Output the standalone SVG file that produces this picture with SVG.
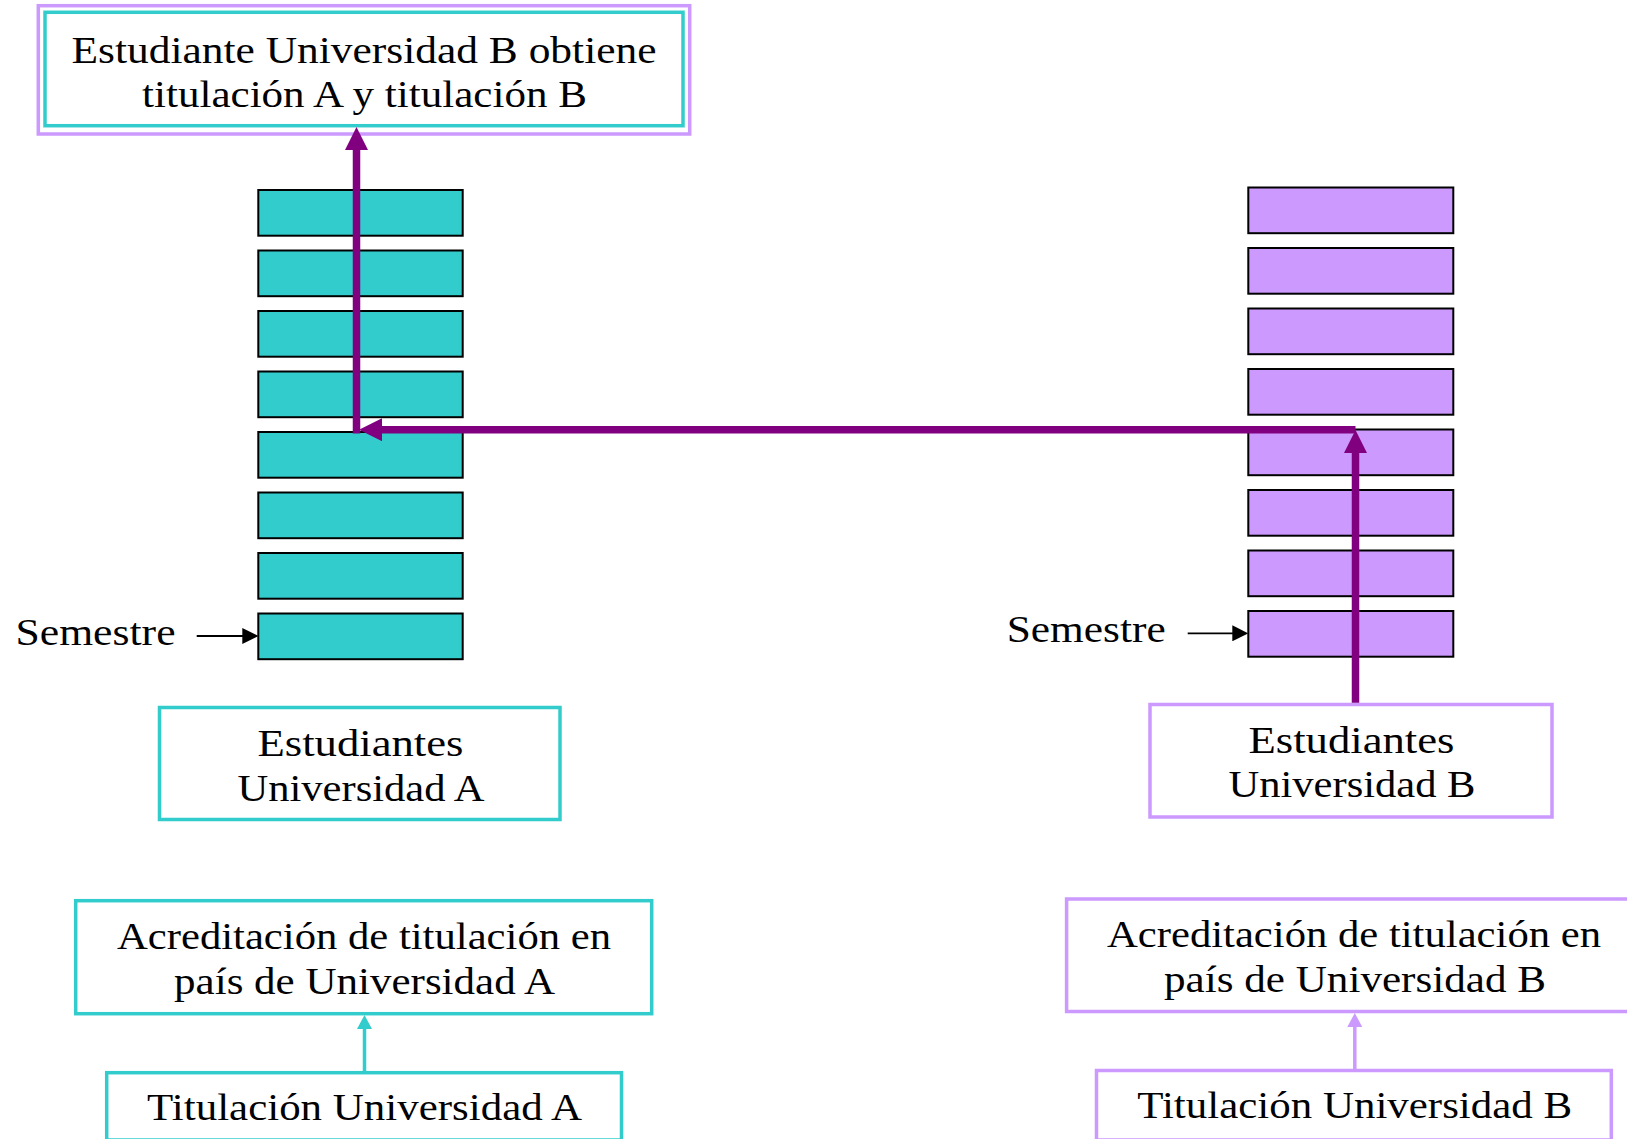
<svg xmlns="http://www.w3.org/2000/svg" width="1627" height="1139" viewBox="0 0 1627 1139">
<style>
  text { font-family: "Liberation Serif", "Times New Roman", serif; font-size: 37px; fill: #000; }
  .mid { text-anchor: middle; }
  .tealbox { fill: #fff; stroke: #33CCCC; stroke-width: 3.5; }
  .purbox { fill: #fff; stroke: #CC99FF; stroke-width: 3.5; }
  .semA { fill: #33CCCC; stroke: #000; stroke-width: 2; }
  .semB { fill: #CC99FF; stroke: #000; stroke-width: 2; }
  .flow { fill: none; stroke: #800080; stroke-width: 7.5; }
  .tline { fill: none; stroke: #33CCCC; stroke-width: 3.5; }
  .pline { fill: none; stroke: #CC99FF; stroke-width: 3.5; }
  .kline { fill: none; stroke: #000; stroke-width: 1.8; }
</style>
<defs>
  <marker id="mFlow" markerUnits="userSpaceOnUse" viewBox="0 0 23 23" markerWidth="23" markerHeight="23" refX="12" refY="11.5" orient="auto">
    <path d="M0,0 L23,11.5 L0,23 z" fill="#800080"/>
  </marker>
  <marker id="mTeal" markerUnits="userSpaceOnUse" viewBox="0 0 14 15" markerWidth="14" markerHeight="15" refX="6" refY="7.5" orient="auto">
    <path d="M0,0 L14,7.5 L0,15 z" fill="#33CCCC"/>
  </marker>
  <marker id="mPur" markerUnits="userSpaceOnUse" viewBox="0 0 14 15" markerWidth="14" markerHeight="15" refX="6" refY="7.5" orient="auto">
    <path d="M0,0 L14,7.5 L0,15 z" fill="#CC99FF"/>
  </marker>
  <marker id="mBlack" markerUnits="userSpaceOnUse" viewBox="0 0 16 16" markerWidth="16" markerHeight="16" refX="8" refY="8" orient="auto">
    <path d="M0,0 L16,8 L0,16 z" fill="#000"/>
  </marker>
</defs>

<g id="node-result">
  <rect x="38.3" y="5.7" width="651.4" height="128.3" fill="#fff" stroke="#CC99FF" stroke-width="3.5"/>
  <rect x="45" y="12.3" width="638" height="113.4" fill="#fff" stroke="#33CCCC" stroke-width="3.5"/>
  <text class="mid" x="364" y="62.5" textLength="585" lengthAdjust="spacingAndGlyphs">Estudiante Universidad B obtiene</text>
  <text class="mid" x="364.5" y="107" textLength="445" lengthAdjust="spacingAndGlyphs">titulación A y titulación B</text>
</g>

<g id="stack-A">
  <rect class="semA" x="258.3" y="190" width="204.4" height="45.7"/>
  <rect class="semA" x="258.3" y="250.5" width="204.4" height="45.7"/>
  <rect class="semA" x="258.3" y="311" width="204.4" height="45.7"/>
  <rect class="semA" x="258.3" y="371.5" width="204.4" height="45.7"/>
  <rect class="semA" x="258.3" y="432" width="204.4" height="45.7"/>
  <rect class="semA" x="258.3" y="492.5" width="204.4" height="45.7"/>
  <rect class="semA" x="258.3" y="553" width="204.4" height="45.7"/>
  <rect class="semA" x="258.3" y="613.5" width="204.4" height="45.7"/>
</g>

<g id="stack-B">
  <rect class="semB" x="1248.3" y="187.5" width="205" height="45.7"/>
  <rect class="semB" x="1248.3" y="248" width="205" height="45.7"/>
  <rect class="semB" x="1248.3" y="308.5" width="205" height="45.7"/>
  <rect class="semB" x="1248.3" y="369" width="205" height="45.7"/>
  <rect class="semB" x="1248.3" y="429.5" width="205" height="45.7"/>
  <rect class="semB" x="1248.3" y="490" width="205" height="45.7"/>
  <rect class="semB" x="1248.3" y="550.5" width="205" height="45.7"/>
  <rect class="semB" x="1248.3" y="611" width="205" height="45.7"/>
</g>

<g id="label-semestre-A">
  <text x="15.5" y="645" textLength="160" lengthAdjust="spacingAndGlyphs">Semestre</text>
</g>
<g id="label-semestre-B">
  <text x="1006.7" y="641.7" textLength="159" lengthAdjust="spacingAndGlyphs">Semestre</text>
</g>

<g id="node-estudiantes-A">
  <rect class="tealbox" x="159.5" y="707.5" width="400.5" height="112"/>
  <text class="mid" x="360.5" y="755.5" textLength="206" lengthAdjust="spacingAndGlyphs">Estudiantes</text>
  <text class="mid" x="361" y="800.5" textLength="247" lengthAdjust="spacingAndGlyphs">Universidad A</text>
</g>

<g id="node-estudiantes-B">
  <rect class="purbox" x="1150" y="704.5" width="402" height="112.5"/>
  <text class="mid" x="1351.5" y="752.5" textLength="206" lengthAdjust="spacingAndGlyphs">Estudiantes</text>
  <text class="mid" x="1352" y="797.3" textLength="247" lengthAdjust="spacingAndGlyphs">Universidad B</text>
</g>

<g id="node-acreditacion-A">
  <rect class="tealbox" x="75.7" y="900.7" width="576" height="113"/>
  <text class="mid" x="364" y="948.5" textLength="494" lengthAdjust="spacingAndGlyphs">Acreditación de titulación en</text>
  <text class="mid" x="364.6" y="993.5" textLength="381" lengthAdjust="spacingAndGlyphs">país de Universidad A</text>
</g>

<g id="node-titulacion-A">
  <rect class="tealbox" x="106.7" y="1072.7" width="514.8" height="67.3"/>
  <text class="mid" x="364.6" y="1120" textLength="435" lengthAdjust="spacingAndGlyphs">Titulación Universidad A</text>
</g>

<g id="node-acreditacion-B">
  <rect class="purbox" x="1066.6" y="899" width="576" height="112.5"/>
  <text class="mid" x="1354" y="946.5" textLength="494" lengthAdjust="spacingAndGlyphs">Acreditación de titulación en</text>
  <text class="mid" x="1355" y="991.5" textLength="382" lengthAdjust="spacingAndGlyphs">país de Universidad B</text>
</g>

<g id="node-titulacion-B">
  <rect class="purbox" x="1096.5" y="1070.5" width="514.8" height="69.5"/>
  <text class="mid" x="1354.7" y="1118.3" textLength="435" lengthAdjust="spacingAndGlyphs">Titulación Universidad B</text>
</g>

<g id="connectors">
  <line class="kline" x1="196.7" y1="636" x2="250.3" y2="636" marker-end="url(#mBlack)"/>
  <line class="kline" x1="1187.7" y1="633.3" x2="1240.3" y2="633.3" marker-end="url(#mBlack)"/>
  <line class="tline" x1="364.5" y1="1072.7" x2="364.5" y2="1023" marker-end="url(#mTeal)"/>
  <line class="pline" x1="1354.8" y1="1070.5" x2="1354.8" y2="1021" marker-end="url(#mPur)"/>
  <path class="flow" d="M1355.5,702.8 L1355.5,441" marker-end="url(#mFlow)"/>
  <path class="flow" d="M1355.5,429.7 L370,429.7" marker-end="url(#mFlow)"/>
  <path class="flow" d="M356.5,433.4 L356.5,138" marker-end="url(#mFlow)"/>
</g>
</svg>
